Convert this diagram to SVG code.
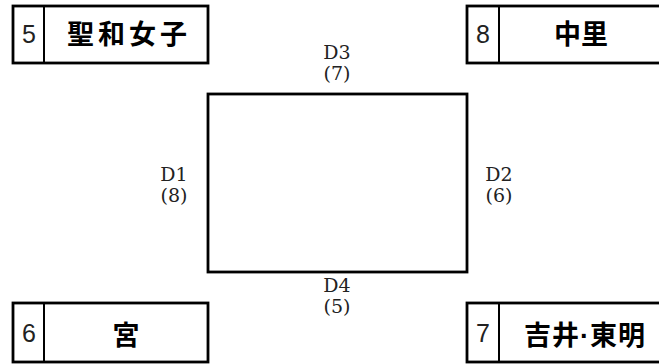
<svg xmlns="http://www.w3.org/2000/svg" width="659" height="364" viewBox="0 0 659 364">
<style>
.box{fill:#fff;stroke:#000;stroke-width:2.8}
.div{stroke:#000;stroke-width:2}
.num{font-family:"Liberation Sans",Arial,sans-serif;font-size:25px;fill:#222;text-anchor:middle}
.name{font-family:"Noto Sans CJK JP","Noto Sans CJK KR",sans-serif;font-size:27px;font-weight:700;fill:#000;text-anchor:middle}
.dot{font-family:"Liberation Sans",Arial,sans-serif;font-weight:700}
.lbl{font-family:"DejaVu Serif","Liberation Serif",serif;font-size:19px;fill:#222;text-anchor:middle}
</style>
<rect width="659" height="364" fill="#fff"/>
<g id="connectors"></g>
<g id="node-5">
<rect class="box" x="13" y="6" width="195" height="57"/>
<line class="div" x1="44" y1="6" x2="44" y2="63"/>
<text class="num" x="29" y="43">5</text>
<text class="name" x="129" y="44" letter-spacing="4">聖和女子</text>
</g>
<g id="node-8">
<rect class="box" x="467" y="6" width="196" height="57"/>
<line class="div" x1="499" y1="6" x2="499" y2="63"/>
<text class="num" x="483" y="43">8</text>
<text class="name" x="581" y="44">中里</text>
</g>
<g id="node-6">
<rect class="box" x="13" y="303" width="195" height="59"/>
<line class="div" x1="44" y1="303" x2="44" y2="362"/>
<text class="num" x="29" y="342">6</text>
<text class="name" x="126" y="345">宮</text>
</g>
<g id="node-7">
<rect class="box" x="467" y="303" width="196" height="59"/>
<line class="div" x1="499" y1="303" x2="499" y2="362"/>
<text class="num" x="483" y="342">7</text>
<text class="name" x="585" y="345" letter-spacing="1">吉井<tspan class="dot">·</tspan>東明</text>
</g>
<g id="intersection">
<rect class="box" x="208" y="94" width="259" height="178"/>
<text class="lbl" x="337" y="59">D3</text>
<text class="lbl" x="337" y="80">(7)</text>
<text class="lbl" x="174" y="181">D1</text>
<text class="lbl" x="174" y="202">(8)</text>
<text class="lbl" x="499" y="181">D2</text>
<text class="lbl" x="499" y="202">(6)</text>
<text class="lbl" x="337" y="292">D4</text>
<text class="lbl" x="337" y="313">(5)</text>
</g>
</svg>
